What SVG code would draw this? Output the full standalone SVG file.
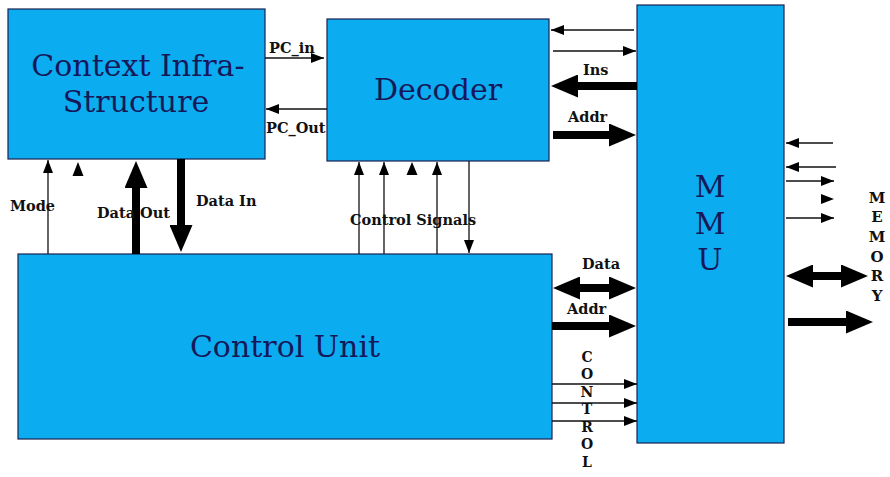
<svg xmlns="http://www.w3.org/2000/svg" width="890" height="477" viewBox="0 0 890 477">
<defs>
<style>
.box{fill:#0cacf0;stroke:#1a2150;stroke-width:1.2}
.big{font-family:"DejaVu Serif",serif;font-size:30px;fill:#16185a;text-anchor:middle}
.lbl{font-family:"DejaVu Serif",serif;font-weight:bold;font-size:14.5px;fill:#111}
.ltr{font-family:"DejaVu Serif",serif;font-weight:bold;font-size:14px;fill:#111;text-anchor:middle}
.mem{font-family:"DejaVu Serif",serif;font-weight:bold;font-size:15px;fill:#111;text-anchor:middle}
.thin{stroke:#111;stroke-width:1.3;fill:none;marker-end:url(#ah)}
.thick{stroke:#000;stroke-width:8;fill:none;marker-end:url(#bh)}
.dbl{stroke:#000;stroke-width:8;fill:none;marker-end:url(#bh);marker-start:url(#bh)}
.tri{fill:#000}
</style>
<marker id="ah" markerUnits="userSpaceOnUse" markerWidth="13" markerHeight="10" refX="13" refY="5" orient="auto"><path d="M0,0 L13,5 L0,10 z" fill="#000"/></marker>
<marker id="bh" markerUnits="userSpaceOnUse" markerWidth="27" markerHeight="23" refX="0" refY="11.5" orient="auto-start-reverse"><path d="M0,0 L27,11.5 L0,23 z" fill="#000"/></marker>
</defs>

<g id="context">
<rect class="box" x="8" y="9" width="257" height="150"/>
<text class="big" x="138" y="76">Context Infra-</text>
<text class="big" x="136" y="112">Structure</text>
</g>

<g id="decoder">
<rect class="box" x="327" y="19" width="222" height="142"/>
<text class="big" x="438" y="100">Decoder</text>
</g>

<g id="mmu">
<rect class="box" x="637" y="5" width="147" height="438"/>
<text class="big" x="710" y="197">M</text>
<text class="big" x="710" y="234">M</text>
<text class="big" x="710" y="270">U</text>
</g>

<g id="control-unit">
<rect class="box" x="18" y="254" width="534" height="185"/>
<text class="big" x="285" y="357">Control Unit</text>
</g>

<g id="connectors">
<line class="thin" x1="265" y1="58" x2="324" y2="58"/>
<line class="thin" x1="327" y1="109" x2="266" y2="109"/>
<line class="thin" x1="634" y1="30" x2="551" y2="30"/>
<line class="thin" x1="553" y1="51" x2="636" y2="51"/>
<line class="thick" x1="637" y1="86" x2="578" y2="86"/>
<line class="thick" x1="553" y1="135" x2="609" y2="135"/>

<line class="thin" x1="48" y1="254" x2="48" y2="160"/>
<polygon class="tri" points="78,162 83.5,176 72.5,176"/>
<line class="thick" x1="136" y1="254" x2="136" y2="188"/>
<line class="thick" x1="181" y1="159" x2="181" y2="225"/>

<line class="thin" x1="359" y1="254" x2="359" y2="162"/>
<line class="thin" x1="384" y1="254" x2="384" y2="162"/>
<polygon class="tri" points="412,162 417.5,175 406.5,175"/>
<line class="thin" x1="437" y1="254" x2="437" y2="162"/>
<line class="thin" x1="469" y1="161" x2="469" y2="253"/>

<line class="dbl" x1="580" y1="288" x2="609" y2="288"/>
<line class="thick" x1="552" y1="326" x2="609" y2="326"/>
<line class="thin" x1="552" y1="384" x2="637" y2="384"/>
<line class="thin" x1="552" y1="403" x2="637" y2="403"/>
<line class="thin" x1="552" y1="421" x2="637" y2="421"/>

<line class="thin" x1="833" y1="143" x2="786" y2="143"/>
<line class="thin" x1="836" y1="167" x2="786" y2="167"/>
<line class="thin" x1="786" y1="181" x2="834" y2="181"/>
<polygon class="tri" points="821,194 834,199 821,204"/>
<line class="thin" x1="786" y1="218" x2="834" y2="218"/>
<line class="dbl" x1="813" y1="276" x2="841" y2="276"/>
<line class="thick" x1="788" y1="322" x2="846" y2="322"/>
</g>

<g id="labels">
<text class="lbl" x="269" y="53">PC_in</text>
<text class="lbl" x="266" y="133">PC_Out</text>
<text class="lbl" x="583" y="75">Ins</text>
<text class="lbl" x="568" y="122">Addr</text>
<text class="lbl" x="10" y="211">Mode</text>
<text class="lbl" x="97" y="218">Data Out</text>
<text class="lbl" x="196" y="206">Data In</text>
<text class="lbl" x="350" y="225">Control Signals</text>
<text class="lbl" x="582" y="269">Data</text>
<text class="lbl" x="567" y="314">Addr</text>
<text class="ltr" x="587" y="362">C</text>
<text class="ltr" x="587" y="379">O</text>
<text class="ltr" x="587" y="397">N</text>
<text class="ltr" x="587" y="414">T</text>
<text class="ltr" x="587" y="432">R</text>
<text class="ltr" x="587" y="449">O</text>
<text class="ltr" x="587" y="467">L</text>
<text class="mem" x="877" y="203">M</text>
<text class="mem" x="877" y="222">E</text>
<text class="mem" x="877" y="242">M</text>
<text class="mem" x="877" y="262">O</text>
<text class="mem" x="877" y="281">R</text>
<text class="mem" x="877" y="301">Y</text>
</g>
</svg>
